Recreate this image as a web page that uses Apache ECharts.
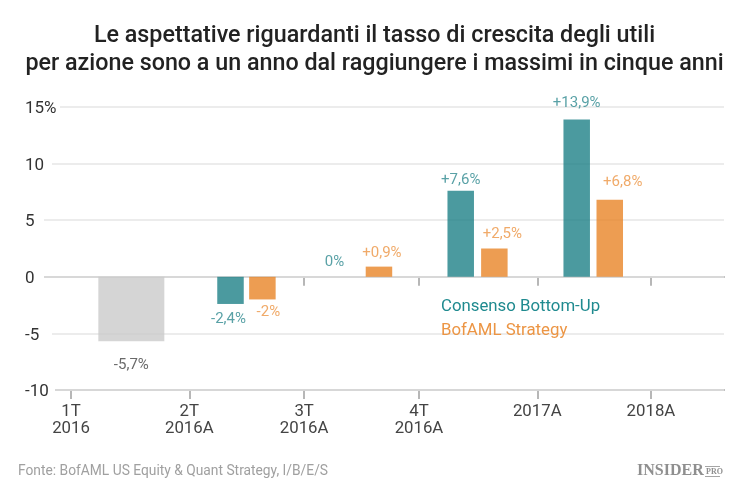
<!DOCTYPE html>
<html>
<head>
<meta charset="utf-8">
<style>
  html, body { margin: 0; padding: 0; background: #fff; }
  #chart { width: 750px; height: 499px; }
</style>
<script src="https://cdn.jsdelivr.net/npm/echarts@6/dist/echarts.min.js"></script>
</head>
<body>
<div id="chart"></div>
<script>
// x positions are in "periods" from the first tick
var tickPositions = [0, 1.02, 2.01, 3, 4.02, 5];
var tickLabels = ['1T\n2016', '2T\n2016A', '3T\n2016A', '4T\n2016A', '2017A', '2018A'];
var zeroLineTicks = [2.01, 3, 4.02, 5];

var greyX = [0.52];
var greyValues = [-5.7];
var greyLabels = ['-5,7%'];

var consensusX = [1.375, 2.375, 3.36, 4.36];
var consensusValues = [-2.4, 0, 7.6, 13.9];
var consensusLabels = ['-2,4%', '0%', '+7,6%', '+13,9%'];

var strategyX = [1.65, 2.655, 3.65, 4.645];
var strategyValues = [-2, 0.9, 2.5, 6.8];
var strategyLabels = ['-2%', '+0,9%', '+2,5%', '+6,8%'];

// rich style per y tick: the white box hides the start of the gridline
var yTicks = { 15: '{a|15%}', 10: '{b|10}', 5: '{c|5}', 0: '{c|0}', '-5': '{b|-5}', '-10': '{d|-10}' };

var consensusOffsets = [[-2, 3], [-12, -2], [0, 2], [0, -4]];
var strategyOffsets = [[6, 0], [3, -1], [8, -2], [13, -5]];

var TEAL = '#1e8187';
var ORANGE = '#e88427';

function pairs(xs, ys) {
  return xs.map(function (x, i) { return [x, ys[i]]; });
}

function labelled(xs, ys, texts, offsets, color) {
  return pairs(xs, ys).map(function (p, i) {
    return {
      value: p,
      label: {
        show: true,
        formatter: texts[i],
        color: color,
        position: p[1] < 0 ? 'bottom' : 'top',
        offset: offsets[i]
      }
    };
  });
}

function yRich(w) {
  return { width: w, height: 16, padding: [4, 0, 0, 0], backgroundColor: '#fff', fontFamily: 'Roboto', fontSize: 17, color: '#333' };
}

var chart = echarts.init(document.getElementById('chart'));
chart.setOption({
  animation: false,
  textStyle: { fontFamily: 'Roboto' },
  title: [
    {
      text: 'Le aspettative riguardanti il tasso di crescita degli utili\nper azione sono a un anno dal raggiungere i massimi in cinque anni',
      left: 374.5, top: 22, padding: 0, textAlign: 'center',
      textStyle: { fontFamily: 'Roboto', fontSize: 23.3, fontWeight: 500, color: '#222', lineHeight: 28 }
    },
    {
      text: 'Fonte: BofAML US Equity & Quant Strategy, I/B/E/S',
      left: 18, top: 465, padding: 0,
      textStyle: { fontFamily: 'Roboto', fontSize: 13.8, fontWeight: 400, color: '#a0a0a0' }
    },
    {
      text: 'INSIDER',
      left: 637, top: 463, padding: 0,
      textStyle: { fontFamily: 'Liberation Serif', fontSize: 16, fontWeight: 700, color: '#8f8f8f' }
    },
    {
      text: 'PRO',
      left: 706, top: 468, padding: 0,
      textStyle: { fontFamily: 'Liberation Serif', fontSize: 8, fontWeight: 700, color: '#8f8f8f' }
    }
  ],
  graphic: [
    { type: 'line', shape: { x1: 705, y1: 466.5, x2: 720, y2: 466.5 }, style: { stroke: '#a5a5a5', lineWidth: 1 } },
    { type: 'line', shape: { x1: 705, y1: 476.5, x2: 720, y2: 476.5 }, style: { stroke: '#a5a5a5', lineWidth: 1 } }
  ],
  legend: {
    orient: 'vertical', left: 425, top: 293,
    icon: 'none', itemWidth: 6, itemHeight: 10, itemGap: 7, selectedMode: false,
    data: [
      { name: 'Consenso Bottom-Up', textStyle: { color: '#1f8a8f' } },
      { name: 'BofAML Strategy', textStyle: { color: '#ec9544' } }
    ],
    textStyle: { fontFamily: 'Roboto', fontSize: 16.8 }
  },
  grid: { left: 44, right: 26, top: 107, bottom: 109 },
  xAxis: [
    {
      type: 'value', min: -0.233, max: 5.63, position: 'bottom', z: 0,
      axisLine: { show: true, onZero: false, lineStyle: { color: '#ababab', width: 2 } },
      axisTick: { show: true, customValues: tickPositions, length: 9, lineStyle: { color: '#a0a0a0', width: 1.5 } },
      axisLabel: {
        customValues: tickPositions, margin: 13,
        fontFamily: 'Roboto', fontSize: 16.8, lineHeight: 17, color: '#444',
        formatter: function (v) { return tickLabels[tickPositions.indexOf(v)]; }
      },
      splitLine: { show: false }
    },
    {
      type: 'value', min: -0.233, max: 5.63, position: 'bottom', z: 0,
      axisLine: { show: true, onZero: true, lineStyle: { color: '#b0b0b0', width: 2 } },
      axisTick: { show: true, customValues: zeroLineTicks, length: 9, lineStyle: { color: '#a0a0a0', width: 1.5 } },
      axisLabel: { show: false },
      splitLine: { show: false }
    },
    { type: 'value', min: -0.233, max: 5.63, show: false, splitLine: { show: false } }
  ],
  yAxis: {
    type: 'value', min: -10, max: 15, interval: 5, z: 1,
    axisLine: { show: false },
    axisTick: { show: false },
    splitLine: { lineStyle: { color: '#e6e6e6', width: 1.5 } },
    axisLabel: {
      margin: 19, align: 'left',
      rich: { a: yRich(35), b: yRich(27), c: yRich(19), d: yRich(30) },
      formatter: function (v) { return yTicks[v]; }
    }
  },
  series: [
    {
      name: 'Base', type: 'bar', xAxisIndex: 2, barWidth: 66,
      itemStyle: { color: '#cacaca', opacity: 0.8 },
      label: { fontFamily: 'Roboto', fontSize: 15 },
      data: labelled(greyX, greyValues, greyLabels, [[0, 11]], '#444')
    },
    {
      name: 'Consenso Bottom-Up', type: 'bar', xAxisIndex: 0, barWidth: 26.5,
      itemStyle: { color: TEAL, opacity: 0.8 },
      label: { fontFamily: 'Roboto', fontSize: 15 },
      data: labelled(consensusX, consensusValues, consensusLabels, consensusOffsets, '#2f8a90')
    },
    {
      name: 'BofAML Strategy', type: 'bar', xAxisIndex: 1, barWidth: 26.5,
      itemStyle: { color: ORANGE, opacity: 0.8 },
      label: { fontFamily: 'Roboto', fontSize: 15 },
      data: labelled(strategyX, strategyValues, strategyLabels, strategyOffsets, '#ec9544')
    }
  ]
});
</script>
</body>
</html>
